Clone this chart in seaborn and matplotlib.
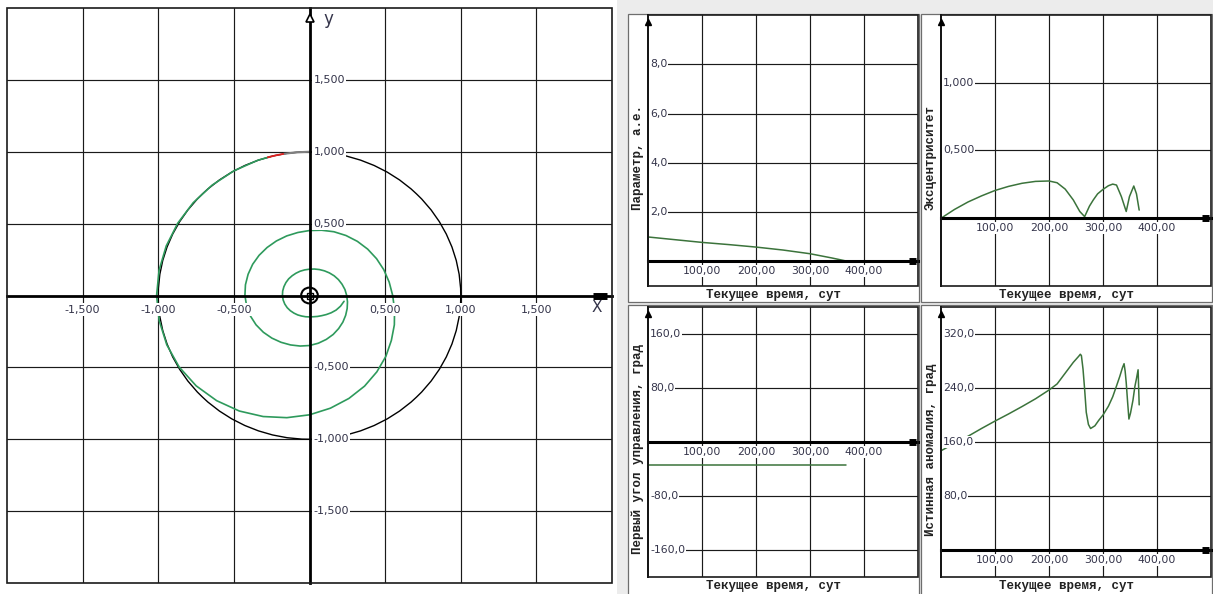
import numpy as np
import matplotlib
matplotlib.use("Agg")
import matplotlib.pyplot as plt
from matplotlib.patches import Rectangle, Circle
import seaborn as sns

# ---------------- data ----------------
# trajectory: polar angle (deg, counter-clockwise, continuing past 360) and radius (AU)
spiral_theta = [105, 110, 120, 130, 140, 150, 160, 170, 180, 190, 200, 210, 220, 230, 240, 250,
                260, 270, 280, 290, 300, 310, 320, 330, 340, 350, 360, 370, 380, 390, 400,
                410, 420, 430, 440, 450, 460, 470, 480, 490, 500, 510, 520, 530, 540, 550,
                560, 570, 580, 590, 600, 610, 620, 630, 640, 650, 660, 670, 680, 690, 700,
                710, 720, 730, 740, 750, 760, 770, 780, 790, 800, 810, 820, 830, 840, 850,
                860, 870, 880, 890, 900, 910, 920, 930, 940, 950, 960, 970, 980, 990, 1000,
                1010, 1020, 1030, 1040, 1050, 1060, 1070]
spiral_r = [1.000, 1.001, 1.001, 1.002, 1.004, 1.006, 1.008, 1.010, 1.011, 1.009, 1.004,
            0.995, 0.978, 0.955, 0.928, 0.896, 0.863, 0.830, 0.796, 0.762, 0.728,
            0.693, 0.659, 0.625, 0.597, 0.571, 0.550, 0.535, 0.523, 0.512, 0.502,
            0.492, 0.482, 0.472, 0.461, 0.452, 0.445, 0.441, 0.438, 0.436, 0.435,
            0.434, 0.432, 0.430, 0.427, 0.422, 0.416, 0.408, 0.398, 0.387, 0.376,
            0.366, 0.357, 0.348, 0.337, 0.325, 0.313, 0.300, 0.288, 0.276, 0.265,
            0.255, 0.246, 0.238, 0.229, 0.221, 0.213, 0.205, 0.198, 0.192, 0.187,
            0.183, 0.181, 0.180, 0.179, 0.179, 0.180, 0.180, 0.180, 0.180, 0.179,
            0.177, 0.174, 0.170, 0.165, 0.160, 0.156, 0.152, 0.150, 0.149, 0.150,
            0.155, 0.162, 0.173, 0.187, 0.203, 0.218, 0.232]
start_theta = [90, 95, 100]
start_r = [1.0, 1.0, 1.0]
red_theta = [100, 103, 106]
red_r = [1.0, 1.0, 1.0]
earth_r = 1.0
sun_r = 0.055

orbit_ticks = [-1.5, -1.0, -0.5, 0.5, 1.0, 1.5]
orbit_labels = ["-1,500", "-1,000", "-0,500", "0,500", "1,000", "1,500"]
orbit_minor = [-1.75, -1.25, -0.75, -0.25, 0.25, 0.75, 1.25, 1.75]

# time histories (days)
t_param = [0, 50, 100, 150, 200, 250, 300, 340, 370]
param = [0.99, 0.88, 0.77, 0.68, 0.58, 0.46, 0.31, 0.14, 0.0]

t_ecc = [0, 25, 50, 75, 100, 125, 150, 175, 200, 215, 230, 245, 257, 266, 275, 282, 290,
         300, 310, 318, 325, 334, 343, 349, 357, 362, 367]
ecc = [0.0, 0.065, 0.12, 0.165, 0.205, 0.235, 0.258, 0.272, 0.275, 0.262, 0.215, 0.135, 0.05,
       0.012, 0.09, 0.135, 0.18, 0.213, 0.24, 0.252, 0.245, 0.16, 0.05, 0.16, 0.238, 0.18, 0.06]

t_ctrl = [0, 366]
ctrl = [-34, -34]

t_nu = [0, 25, 50, 75, 100, 125, 150, 175, 200, 215, 230, 245, 255, 258, 260, 263, 266, 269,
        273, 277, 285, 292, 300, 310, 318, 325, 331, 336, 339, 341, 343, 345.5, 348, 351, 355.5,
        359, 362, 365, 367]
nu = [147, 158, 168.5, 180, 191, 201.5, 212.5, 224, 237, 246, 262, 278, 287, 290, 288, 268, 238,
      204, 186, 180, 184, 192, 200, 213, 227, 243, 257, 270, 276, 265, 248, 220, 194, 203, 222,
      242, 254, 267, 215]

time_grid = [100, 200, 300, 400]
time_labels = ["100,00", "200,00", "300,00", "400,00"]
time_minor = [50, 150, 250, 350, 450]

panels = [
    dict(t=t_param, v=param, ylim=(-1, 10), grid=[2, 4, 6, 8], labels=["2,0", "4,0", "6,0", "8,0"],
         minor=[1, 3, 5, 7, 9], ylabel="Параметр, а.е."),
    dict(t=t_ecc, v=ecc, ylim=(-0.5, 1.5), grid=[0.5, 1.0], labels=["0,500", "1,000"],
         minor=[-0.25, 0.25, 0.75, 1.25], ylabel="Эксцентриситет"),
    dict(t=t_ctrl, v=ctrl, ylim=(-200, 200), grid=[-160, -80, 80, 160],
         labels=["-160,0", "-80,0", "80,0", "160,0"], minor=[-120, -40, 40, 120],
         ylabel="Первый угол управления, град"),
    dict(t=t_nu, v=nu, ylim=(-40, 360), grid=[80, 160, 240, 320],
         labels=["80,0", "160,0", "240,0", "320,0"], minor=[40, 120, 200, 280],
         ylabel="Истинная аномалия, град"),
]

# ---------------- style ----------------
sns.set_style("white")
plt.rcParams['font.family'] = ['DejaVu Sans']

W, H = 1213, 594
fig = plt.figure(figsize=(W / 100, H / 100), dpi=100)


def box(x0, y0, x1, y1):
    # pixel box (origin top-left) -> figure fractions
    return [x0 / W, 1 - y1 / H, (x1 - x0) / W, (y1 - y0) / H]


def style_axes(ax, xgrid, ygrid, xminor, yminor, x_lw, y_lw, small_arrow=False):
    ax.set_xticks(xgrid)
    ax.set_yticks(ygrid)
    ax.set_xticks(xminor, minor=True)
    ax.set_yticks(yminor, minor=True)
    ax.grid(True, which='major', color='#1a1a1a', lw=0.85)
    ax.tick_params(which='major', length=0, labelbottom=False, labelleft=False)
    ax.tick_params(which='minor', length=4, width=0.8, direction='inout', color='k')
    ax.spines['left'].set_position(('data', 0))
    ax.spines['bottom'].set_position(('data', 0))
    ax.spines['bottom'].set_linewidth(x_lw)
    ax.spines['left'].set_linewidth(y_lw)
    for s in ['left', 'bottom']:
        ax.spines[s].set_color('k')
        ax.spines[s].set_zorder(3)
    ax.spines['top'].set_visible(False)
    ax.spines['right'].set_visible(False)
    ax.add_patch(Rectangle((0, 0), 1, 1, transform=ax.transAxes, fill=False,
                           ec='#1a1a1a', lw=1.2, clip_on=False, zorder=4))
    # axis end markers
    ax.plot([0.968, 0.992], [0, 0], transform=ax.get_yaxis_transform(), color='k',
            lw=5, solid_capstyle='butt', clip_on=False, zorder=5)
    if small_arrow:
        ax.plot([0], [0.975], transform=ax.get_xaxis_transform(), marker='^', ms=4,
                mfc='k', mec='k', clip_on=False, zorder=5)
    else:
        ax.plot([0], [0.982], transform=ax.get_xaxis_transform(), marker='^', ms=6,
                mfc='white', mec='k', mew=1.2, clip_on=False, zorder=5)


# background of the right-hand window
fig.patches.append(Rectangle((617 / W, 0), 1 - 617 / W, 1, transform=fig.transFigure,
                             fc='#ececec', ec='none', zorder=-3))

# ---------------- left: trajectory ----------------
ax0 = fig.add_axes(box(7, 8, 612, 583))
ax0.set_xlim(-2, 2)
ax0.set_ylim(-2, 2)
style_axes(ax0, orbit_ticks, orbit_ticks, orbit_minor, orbit_minor, 2.0, 2.0)

ax0.add_patch(Circle((0, 0), earth_r, fill=False, ec='k', lw=1.0, zorder=2))
ax0.add_patch(Circle((0, 0), sun_r, fill=False, ec='k', lw=1.5, zorder=2))
ax0.plot([0], [0], marker='s', ms=5, mfc='none', mec='k', mew=1, zorder=6)

th = np.radians(spiral_theta)
sns.lineplot(x=np.array(spiral_r) * np.cos(th), y=np.array(spiral_r) * np.sin(th), ax=ax0,
             sort=False, estimator=None, color='#2e9a5c', lw=1.2)
th = np.radians(start_theta)
sns.lineplot(x=np.array(start_r) * np.cos(th), y=np.array(start_r) * np.sin(th), ax=ax0,
             sort=False, estimator=None, color='#808080', lw=1.5)
th = np.radians(red_theta)
sns.lineplot(x=np.array(red_r) * np.cos(th), y=np.array(red_r) * np.sin(th), ax=ax0,
             sort=False, estimator=None, color='#e02020', lw=1.3)

lab_col = '#34344a'
for v, s in zip(orbit_ticks, orbit_labels):
    ax0.annotate(s, (v, 0), xytext=(0, -14), textcoords='offset pixels', ha='center',
                 va='center', fontsize=8, color=lab_col, zorder=7,
                 bbox=dict(fc='white', ec='none', pad=1))
    ax0.annotate(s, (0, v), xytext=(4, 0), textcoords='offset pixels', ha='left',
                 va='center', fontsize=8, color=lab_col, zorder=7,
                 bbox=dict(fc='white', ec='none', pad=1))
ax0.set_xlabel('')
ax0.set_ylabel('')
fig.text(328 / W, 1 - 19 / H, 'y', fontsize=12, color=lab_col, ha='center', va='center')
fig.text(597 / W, 1 - 308 / H, 'X', fontsize=11, color=lab_col, ha='center', va='center')

# ---------------- right: time histories ----------------
outer = [(628, 14, 919, 302), (921, 14, 1212, 302), (628, 305, 919, 600), (921, 305, 1212, 600)]
inner = [(648, 15, 918, 286), (941, 15, 1211, 286), (648, 307, 918, 577), (941, 307, 1211, 577)]
mono = dict(family='Liberation Mono', weight='bold', fontsize=9, color='#222222')

for p, (ox0, oy0, ox1, oy1), (ix0, iy0, ix1, iy1) in zip(panels, outer, inner):
    fig.patches.append(Rectangle((ox0 / W, 1 - oy1 / H), (ox1 - ox0) / W, (oy1 - oy0) / H,
                                 transform=fig.transFigure, fc='white', ec='#6e6e6e',
                                 lw=0.9, zorder=-2))
    ax = fig.add_axes(box(ix0, iy0, ix1, iy1))
    ax.set_zorder(2)
    ax.set_xlim(0, 500)
    ax.set_ylim(*p['ylim'])
    style_axes(ax, time_grid, p['grid'], time_minor, p['minor'], 2.2, 1.4, small_arrow=True)
    sns.lineplot(x=p['t'], y=p['v'], ax=ax, sort=False, estimator=None,
                 color='#3b733b', lw=1.1)
    ax.set_xlabel('')
    ax.set_ylabel('')
    for v, s in zip(time_grid, time_labels):
        ax.annotate(s, (v, 0), xytext=(0, -10), textcoords='offset pixels', ha='center',
                    va='center', fontsize=7.8, color=lab_col, zorder=7,
                    bbox=dict(fc='white', ec='none', pad=0.8))
    for v, s in zip(p['grid'], p['labels']):
        ax.annotate(s, (0, v), xytext=(2, 0), textcoords='offset pixels', ha='left',
                    va='center', fontsize=7.8, color=lab_col, zorder=7,
                    bbox=dict(fc='white', ec='none', pad=0.8))
    fig.text((ox0 + ox1) / 2 / W, 1 - (iy1 + 9) / H, 'Текущее время, сут', ha='center',
             va='center', **mono)
    fig.text((ox0 + 10) / W, 1 - ((oy0 + min(oy1, 594)) / 2) / H, p['ylabel'], rotation=90,
             ha='center', va='center', **mono)

fig.savefig('out.png', dpi=100)
